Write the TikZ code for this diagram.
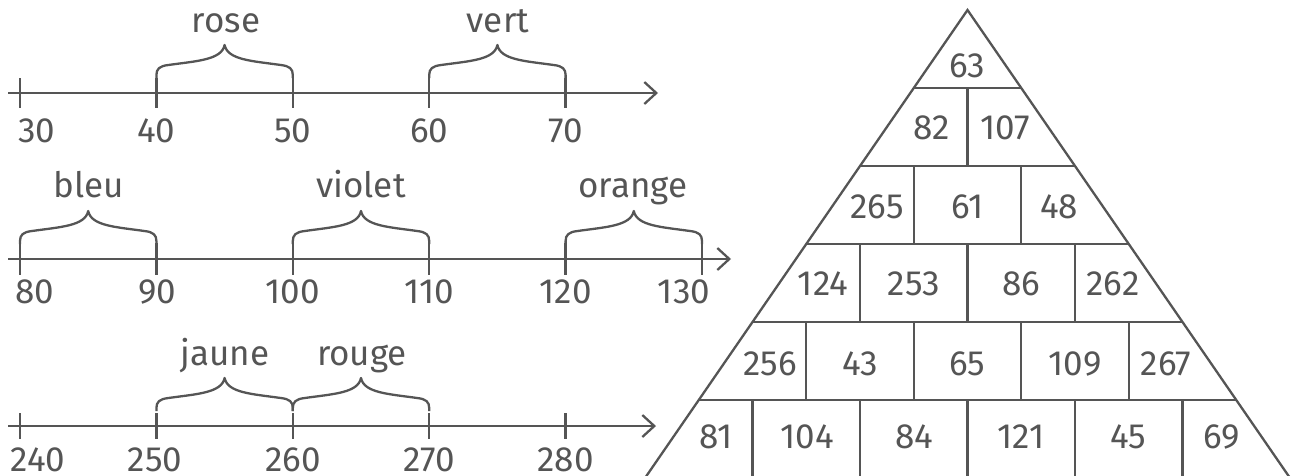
\documentclass[tikz,border=0pt]{standalone}
\usepackage{fontspec}
\setmainfont{Fira Sans}
\usetikzlibrary{arrows.meta}
\definecolor{ink}{HTML}{555555}
\tikzset{
  ln/.style={draw=ink, line width=2.3pt},
  axisline/.style={ln, -{Straight Barb[length=12pt,width=22pt]}},
  lbl/.style={text=ink, inner sep=0pt, anchor=base, font=\fontsize{35}{40}\selectfont},
}
\newcommand{\MyBrace}[3]{%
  \pgfmathsetmacro\xm{(#1+#2)/2}%
  \draw[ln, line join=round] (#1,#3-15) -- (#1,#3-18)
    .. controls (#1,#3-24) and (#1+3,#3-27) .. (#1+12,#3-28)
    .. controls (\xm-28,#3-32) and (\xm-3,#3-33) .. (\xm,#3-48)
    .. controls (\xm+3,#3-33) and (\xm+28,#3-32) .. (#2-12,#3-28)
    .. controls (#2-3,#3-27) and (#2,#3-24) .. (#2,#3-18) -- (#2,#3-15);}
\begin{document}
\begin{tikzpicture}[x=1pt,y=-1pt]
\useasboundingbox (0,0) rectangle (1297,475);

% ---------- number line 1 ----------
\coordinate (s1) at (8,93);
\coordinate (e1) at (658,93);
\draw[axisline] (s1) -- (e1);
\foreach \i in {0,...,4} { \draw[ln] (20+136.4*\i,78) -- (20+136.4*\i,108); }
\node[lbl] (n30) at (37,142) {30};
\node[lbl] (n40) at (156.4,142) {40};
\node[lbl] (n50) at (292.8,142) {50};
\node[lbl] (n60) at (429.2,142) {60};
\node[lbl] (n70) at (565.6,142) {70};
\MyBrace{156.4}{292.8}{93}
\MyBrace{429.2}{565.6}{93}
\node[lbl] (rose) at (226,32) {rose};
\node[lbl] (vert) at (498,32) {vert};

% ---------- number line 2 ----------
\coordinate (s2) at (8,259);
\coordinate (e2) at (731,259);
\draw[axisline] (s2) -- (e2);
\foreach \i in {0,...,5} { \draw[ln] (20+136.4*\i,243) -- (20+136.4*\i,275); }
\node[lbl] (n80) at (35,303) {80};
\node[lbl] (n90) at (157,303) {90};
\node[lbl] (n100) at (292.8,303) {100};
\node[lbl] (n110) at (429.2,303) {110};
\node[lbl] (n120) at (565.6,303) {120};
\node[lbl] (n130) at (684,303) {130};
\MyBrace{20}{156.4}{259}
\MyBrace{292.8}{429.2}{259}
\MyBrace{565.6}{702}{259}
\node[lbl] (bleu) at (89,197) {bleu};
\node[lbl] (violet) at (361,197) {violet};
\node[lbl] (orange) at (633,197) {orange};

% ---------- number line 3 ----------
\coordinate (s3) at (8,426);
\coordinate (e3) at (656,426);
\draw[axisline] (s3) -- (e3);
\foreach \i in {0,...,4} { \draw[ln] (20+136.4*\i,413) -- (20+136.4*\i,439); }
\node[lbl] (n240) at (38,471) {240};
\node[lbl] (n250) at (155,471) {250};
\node[lbl] (n260) at (292.8,471) {260};
\node[lbl] (n270) at (429.2,471) {270};
\node[lbl] (n280) at (565.6,471) {280};
\MyBrace{156.4}{292.8}{426}
\MyBrace{292.8}{429.2}{426}
\node[lbl] (jaune) at (225,365) {jaune};
\node[lbl] (rouge) at (362,365) {rouge};

% ---------- pyramid ----------
\begin{scope}
\clip (0,0) rectangle (1297,475);
\coordinate (apex) at (967.5,10);
\coordinate (bl) at (967.5-53.75*7,10+78*7);
\coordinate (br) at (967.5+53.75*7,10+78*7);
\draw[ln, line join=miter] (bl) -- (apex) -- (br);
\foreach \k in {1,...,5} {
  \draw[ln] (967.5-53.75*\k,10+78*\k) -- (967.5+53.75*\k,10+78*\k);
}
% dividers
\draw[ln] (967.5,88) -- (967.5,166);
\foreach \x in {913.75,1021.25} { \draw[ln] (\x,166) -- (\x,244); }
\foreach \x in {860,967.5,1075} { \draw[ln] (\x,244) -- (\x,322); }
\foreach \x in {806.25,913.75,1021.25,1128.75} { \draw[ln] (\x,322) -- (\x,400); }
\foreach \x in {752.5,860,967.5,1075,1182.5} { \draw[ln] (\x,400) -- (\x,480); }
\end{scope}

\node[lbl] (p63) at (967.5,77) {63};
\node[lbl] (p82) at (932,139) {82};
\node[lbl] (p107) at (1005,139) {107};
\node[lbl] (p265) at (877,218) {265};
\node[lbl] (p61) at (967.5,218) {61};
\node[lbl] (p48) at (1059,218) {48};
\node[lbl] (p124) at (823,295) {124};
\node[lbl] (p253) at (914,295) {253};
\node[lbl] (p86) at (1021,295) {86};
\node[lbl] (p262) at (1113,295) {262};
\node[lbl] (p256) at (770,375) {256};
\node[lbl] (p43) at (860,375) {43};
\node[lbl] (p65) at (967.5,375) {65};
\node[lbl] (p109) at (1075,375) {109};
\node[lbl] (p267) at (1166,375) {267};
\node[lbl] (p81) at (716,448) {81};
\node[lbl] (p104) at (807,448) {104};
\node[lbl] (p84) at (914,448) {84};
\node[lbl] (p121) at (1021,448) {121};
\node[lbl] (p45) at (1128,448) {45};
\node[lbl] (p69) at (1222,448) {69};
\end{tikzpicture}
\end{document}
